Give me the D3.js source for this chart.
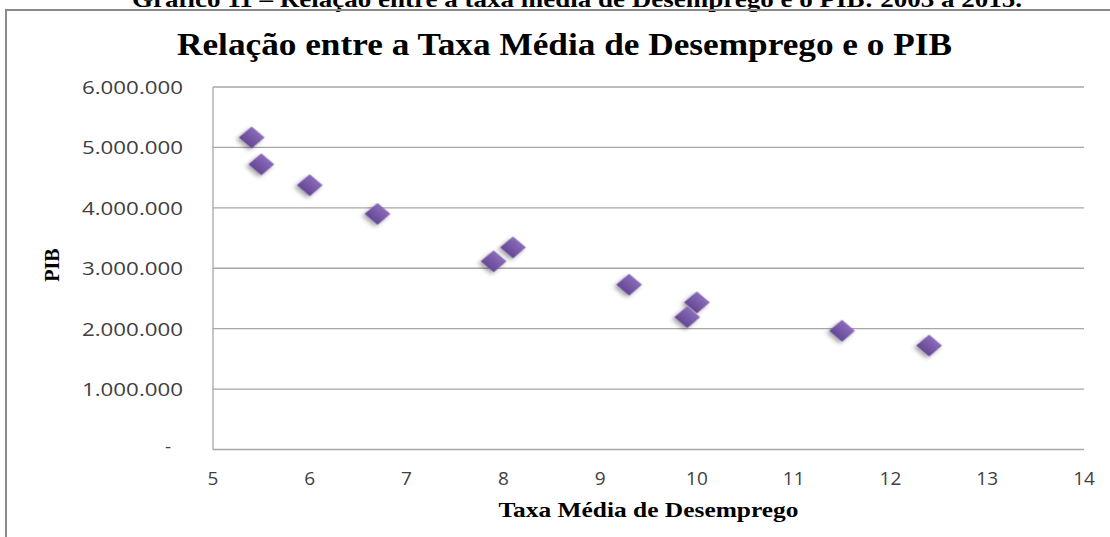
<!DOCTYPE html>
<html>
<head>
<meta charset="utf-8">
<script src="https://cdn.jsdelivr.net/npm/d3@7"></script>
<style>
  html, body { margin: 0; padding: 0; background: #fff; }
  svg { display: block; }
</style>
</head>
<body>
<svg id="chart" width="1110" height="537"></svg>
<script>
// ---- data ----
const caption = "Gráfico 11 – Relação entre a taxa média de Desemprego e o PIB: 2003 a 2015.";
const chartTitle = "Relação entre a Taxa Média de Desemprego e o PIB";
const xTitle = "Taxa Média de Desemprego";
const yTitle = "PIB";
const taxaDesemprego = [5.4, 5.5, 6.0, 6.7, 7.9, 8.1, 9.3, 10.0, 9.9, 11.5, 12.4];
const pib = [5165000, 4720000, 4375000, 3900000, 3115000, 3345000, 2728000, 2435000, 2190000, 1965000, 1720000];
const xTicks = [5, 6, 7, 8, 9, 10, 11, 12, 13, 14];
const yTicks = [0, 1000000, 2000000, 3000000, 4000000, 5000000, 6000000];

const svg = d3.select("#chart");
const W = 1110, H = 537;
const plot = { left: 213, right: 1084, top: 87, bottom: 449.5 };

const x = d3.scaleLinear().domain([5, 14]).range([plot.left, plot.right]);
const y = d3.scaleLinear().domain([0, 6000000]).range([plot.bottom, plot.top]);

const ptBR = d3.formatLocale({ decimal: ",", thousands: ".", grouping: [3], currency: ["R$", ""] });
const fmt = ptBR.format(",.0f");
const yFmt = v => v === 0 ? "-" : fmt(v);

// defs
const defs = svg.append("defs");
const grad = defs.append("linearGradient").attr("id", "dgrad")
  .attr("x1", "0").attr("y1", "0").attr("x2", "0").attr("y2", "1");
grad.append("stop").attr("offset", "0%").attr("stop-color", "#8a6cbb");
grad.append("stop").attr("offset", "100%").attr("stop-color", "#654894");
const filt = defs.append("filter").attr("id", "shadow")
  .attr("x", "-50%").attr("y", "-50%").attr("width", "200%").attr("height", "200%");
filt.append("feDropShadow").attr("dx", 0).attr("dy", 3).attr("stdDeviation", 2)
  .attr("flood-color", "#000").attr("flood-opacity", 0.35);

// caption (cut off at top)
svg.append("text")
  .attr("x", 132).attr("y", 7)
  .attr("textLength", 890).attr("lengthAdjust", "spacingAndGlyphs")
  .style("font-family", "'Liberation Serif', 'Times New Roman', serif")
  .style("font-weight", "bold").style("font-size", "24px").attr("fill", "#000")
  .text(caption);

// outer chart border (left + top visible)
svg.append("rect")
  .attr("x", 6).attr("y", 10).attr("width", W + 20).attr("height", H + 20)
  .attr("fill", "none").attr("stroke", "#8a8a8a").attr("stroke-width", 2);

// title
svg.append("text")
  .attr("x", 177).attr("y", 55)
  .attr("textLength", 775).attr("lengthAdjust", "spacingAndGlyphs")
  .style("font-family", "'Liberation Serif', 'Times New Roman', serif")
  .style("font-weight", "bold").style("font-size", "31px").attr("fill", "#000")
  .text(chartTitle);

// gridlines
svg.append("g").selectAll("line").data(yTicks.filter(d => d > 0)).join("line")
  .attr("x1", plot.left).attr("x2", plot.right)
  .attr("y1", d => y(d)).attr("y2", d => y(d))
  .attr("stroke", "#a6a6a6").attr("stroke-width", 1.3);

// axes lines
svg.append("line").attr("x1", plot.left).attr("x2", plot.left)
  .attr("y1", plot.top).attr("y2", plot.bottom)
  .attr("stroke", "#a6a6a6").attr("stroke-width", 1.3);
svg.append("line").attr("x1", plot.left).attr("x2", plot.right)
  .attr("y1", plot.bottom).attr("y2", plot.bottom)
  .attr("stroke", "#a6a6a6").attr("stroke-width", 1.3);

// y tick labels
svg.append("g").selectAll("text").data(yTicks).join("text")
  .attr("x", d => d === 0 ? 171 : 183)
  .attr("y", d => y(d) + (d === 0 ? 3 : 7))
  .attr("text-anchor", "end")
  .each(function(d) { if (d !== 0) d3.select(this).attr("textLength", 101).attr("lengthAdjust", "spacingAndGlyphs"); })
  .style("font-family", "'Open Sans', 'Noto Sans', sans-serif")
  .style("font-size", "19px").attr("fill", "#404040")
  .text(yFmt);

// x tick labels
svg.append("g").selectAll("text").data(xTicks).join("text")
  .attr("x", d => x(d)).attr("y", 485)
  .attr("text-anchor", "middle")
  .style("font-family", "'Open Sans', 'Noto Sans', sans-serif")
  .style("font-size", "19px").attr("fill", "#404040")
  .text(d => d);

// axis titles
svg.append("text")
  .attr("x", (plot.left + plot.right) / 2).attr("y", 517)
  .attr("text-anchor", "middle")
  .attr("textLength", 300).attr("lengthAdjust", "spacingAndGlyphs")
  .style("font-family", "'Liberation Serif', 'Times New Roman', serif")
  .style("font-weight", "bold").style("font-size", "21px").attr("fill", "#000")
  .text(xTitle);

svg.append("text")
  .attr("transform", "translate(59,265) rotate(-90)")
  .attr("text-anchor", "middle")
  .style("font-family", "'Liberation Serif', 'Times New Roman', serif")
  .style("font-weight", "bold").style("font-size", "20px").attr("fill", "#000")
  .text(yTitle);

// points
const pts = taxaDesemprego.map((t, i) => ({ t, p: pib[i] }));
const diamond = d3.symbol().type(d3.symbolSquare).size(240);
svg.append("g").selectAll("path").data(pts).join("path")
  .attr("d", diamond)
  .attr("transform", d => `translate(${x(d.t)},${y(d.p)}) scale(1.18,1) rotate(45)`)
  .attr("fill", "url(#dgrad)")
  .attr("filter", "url(#shadow)");
</script>
</body>
</html>
